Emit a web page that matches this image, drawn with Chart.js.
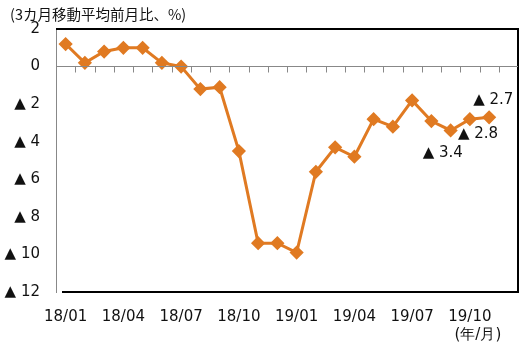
<!DOCTYPE html>
<html>
<head>
<meta charset="utf-8">
<script src="https://cdn.jsdelivr.net/npm/chart.js@4/dist/chart.umd.min.js"></script>
<style>
  html, body { margin: 0; padding: 0; background: #fff; overflow: hidden; }
  canvas { display: block; }
</style>
</head>
<body>
<canvas id="c" width="526" height="347"></canvas>
<script>
const categories = ["18/01","18/02","18/03","18/04","18/05","18/06","18/07","18/08","18/09","18/10","18/11","18/12",
                    "19/01","19/02","19/03","19/04","19/05","19/06","19/07","19/08","19/09","19/10","19/11","19/12"];
const values = [1.2, 0.2, 0.8, 1.0, 1.0, 0.2, 0.0, -1.2, -1.1, -4.5, -9.4, -9.4,
                -9.9, -5.6, -4.3, -4.8, -2.8, -3.2, -1.8, -2.9, -3.4, -2.8, -2.7, null];
const yTicks = [2, 0, -2, -4, -6, -8, -10, -12];
// labelled points: index into categories, text, offset of the text from the point
const notes = [
  { i: 20, text: "▲ 3.4", dx: -28, dy: 23 },
  { i: 21, text: "▲ 2.8", dx: -12, dy: 15 },
  { i: 22, text: "▲ 2.7", dx: -16, dy: -17 }
];
const title = "(3カ月移動平均前月比、%)";
const unitLabel = "(年/月)";

const FONT = "'DejaVu Sans', Verdana, sans-serif";
const ORANGE = "#E07A22";

const framePlugin = {
  id: "frame",
  afterDraw(chart) {
    const ctx = chart.ctx;
    const x = chart.scales.x, y = chart.scales.y;
    const L = Math.round(x.left), R = Math.round(x.right);
    const T = Math.round(y.getPixelForValue(yTicks[0]));
    const B = Math.round(y.getPixelForValue(yTicks[yTicks.length - 1]));
    ctx.save();
    // black box: top / right / bottom
    ctx.fillStyle = "#000";
    ctx.fillRect(L, T - 1, R - L + 1, 2);
    ctx.fillRect(R - 1, T - 1, 2, B - T + 2);
    ctx.fillRect(L + 6, B - 1, R - L - 6, 2);
    // zero line with tick marks at the category boundaries
    const y0 = Math.round(y.getPixelForValue(0)) - 0.5;
    ctx.strokeStyle = "#888";
    ctx.lineWidth = 1;
    ctx.beginPath();
    ctx.moveTo(L, y0);
    ctx.lineTo(R, y0);
    const half = (x.getPixelForValue(1) - x.getPixelForValue(0)) / 2;
    for (let i = 1; i < categories.length; i++) {
      const px = Math.round(x.getPixelForValue(i) - half) + 0.5;
      ctx.moveTo(px, y0);
      ctx.lineTo(px, y0 + 6);
    }
    ctx.stroke();
    // texts
    ctx.fillStyle = "#111";
    ctx.textBaseline = "middle";
    ctx.font = "14.5px 'Noto Sans CJK JP', " + FONT;
    ctx.textAlign = "left";
    ctx.fillText(title, 10, 14);
    ctx.font = "15px " + FONT;
    ctx.textAlign = "center";
    ctx.fillText(unitLabel, x.getPixelForValue(21) + 8, 335);
    ctx.textAlign = "left";
    notes.forEach(n => {
      ctx.fillText(n.text, x.getPixelForValue(n.i) + n.dx, y.getPixelForValue(values[n.i]) + n.dy);
    });
    ctx.restore();
  }
};

new Chart(document.getElementById("c"), {
  type: "line",
  data: {
    labels: categories,
    datasets: [{
      data: values,
      borderColor: ORANGE,
      backgroundColor: ORANGE,
      borderWidth: 3,
      pointStyle: "rectRot",
      pointRadius: 5,
      pointHoverRadius: 5,
      tension: 0
    }]
  },
  options: {
    responsive: false,
    animation: false,
    events: [],
    layout: { padding: { left: 0, right: 2, top: 29, bottom: 0 } },
    plugins: { legend: { display: false }, tooltip: { enabled: false } },
    scales: {
      x: {
        type: "category",
        offset: true,
        grid: { display: false, drawTicks: false },
        border: { display: false },
        ticks: {
          autoSkip: false,
          maxRotation: 0,
          padding: 16,
          color: "#111",
          font: { family: FONT, size: 15 },
          callback: (v, i) => (i % 3 === 0 ? categories[i] : "")
        },
        afterFit: s => { s.height = 55; }
      },
      y: {
        min: -12,
        max: 2,
        afterBuildTicks: s => { s.ticks = yTicks.map(v => ({ value: v })); },
        grid: { display: false, drawTicks: false },
        border: { display: true, color: "#888", width: 1 },
        ticks: {
          padding: 16,
          color: "#111",
          font: { family: FONT, size: 15 },
          callback: v => (v < 0 ? "▲ " + (-v) : String(v))
        },
        afterFit: s => { s.width = 56; }
      }
    }
  },
  plugins: [framePlugin]
});
</script>
</body>
</html>
